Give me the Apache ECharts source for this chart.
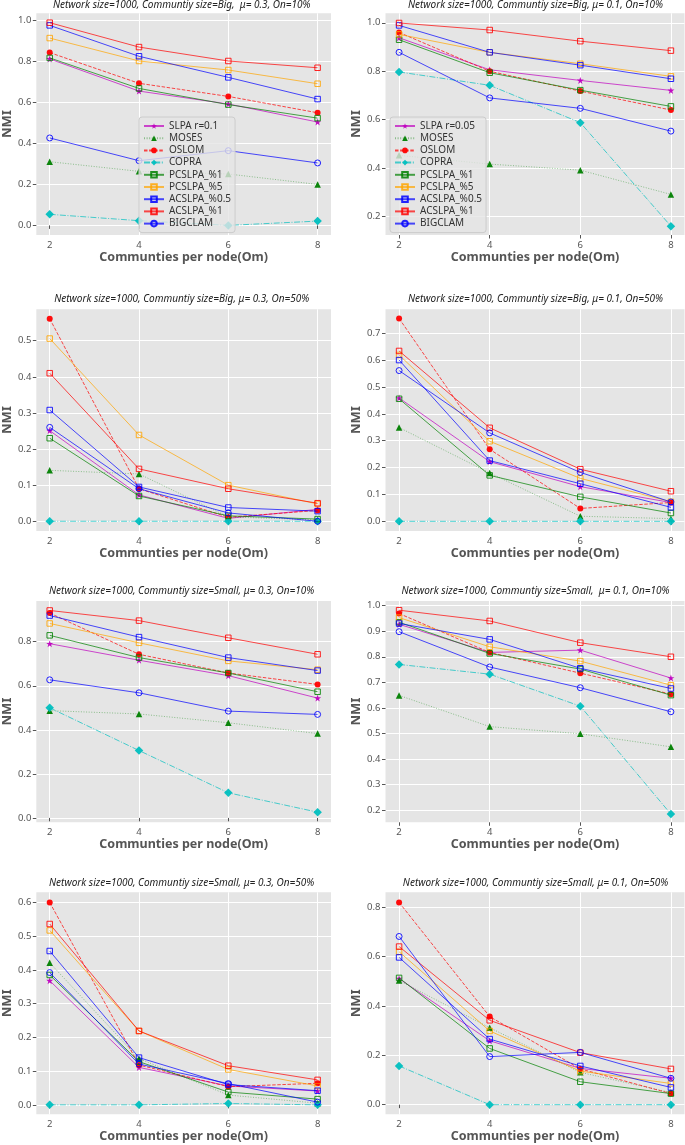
<!DOCTYPE html>
<html>
<head>
<meta charset="utf-8">
<script src="https://cdn.jsdelivr.net/npm/echarts@6/dist/echarts.min.js"></script>
<style>html,body{margin:0;padding:0;background:#fff}#c{width:685px;height:1145px}</style>
</head>
<body>
<div id="c"></div>
<script>
// ---------------- DATA ----------------
const OM = [2, 4, 6, 8];
const X_TICKS = [2, 4, 6, 8];
const TITLES = [
  'Network size=1000, Communtiy size=Big,  \u03bc= 0.3, On=10%',
  'Network size=1000, Communtiy size=Big, \u03bc= 0.1, On=10%',
  'Network size=1000, Communtiy size=Big, \u03bc= 0.3, On=50%',
  'Network size=1000, Communtiy size=Big, \u03bc= 0.1, On=50%',
  'Network size=1000, Communtiy size=Small, \u03bc= 0.3, On=10%',
  'Network size=1000, Communtiy size=Small,  \u03bc= 0.1, On=10%',
  'Network size=1000, Communtiy size=Small, \u03bc= 0.3, On=50%',
  'Network size=1000, Communtiy size=Small, \u03bc= 0.1, On=50%'
];
const X_NAME = 'Communties per node(Om)';
const Y_NAME = 'NMI';
const SLPA_NAMES = ['SLPA r=0.1', 'SLPA r=0.05'];   // left column, right column
const METHOD_NAMES = ['MOSES', 'OSLOM', 'COPRA', 'PCSLPA_%1', 'PCSLPA_%5', 'ACSLPA_%0.5', 'ACSLPA_%1', 'BIGCLAM'];

// one row per panel (row-major: top-left, top-right, ...), values at Om = 2,4,6,8
const SLPA = [
  [0.813, 0.656, 0.593, 0.505],
  [0.938, 0.806, 0.762, 0.721],
  [0.251, 0.073, 0.008, 0.033],
  [0.459, 0.222, 0.129, 0.070],
  [0.791, 0.716, 0.646, 0.544],
  [0.927, 0.817, 0.826, 0.717],
  [0.368, 0.111, 0.056, 0.041],
  [0.511, 0.259, 0.147, 0.107]
];
const MOSES = [
  [0.311, 0.264, 0.251, 0.200],
  [0.453, 0.417, 0.392, 0.292],
  [0.141, 0.131, 0.012, 0.004],
  [0.349, 0.180, 0.019, 0.010],
  [0.487, 0.472, 0.432, 0.383],
  [0.649, 0.527, 0.499, 0.448],
  [0.421, 0.137, 0.029, 0.005],
  [0.503, 0.312, 0.131, 0.049]
];
const OSLOM = [
  [0.844, 0.694, 0.630, 0.550],
  [0.960, 0.800, 0.718, 0.640],
  [0.561, 0.090, 0.011, 0.030],
  [0.755, 0.268, 0.048, 0.070],
  [0.930, 0.743, 0.658, 0.606],
  [0.969, 0.817, 0.736, 0.654],
  [0.600, 0.118, 0.054, 0.064],
  [0.820, 0.357, 0.145, 0.045]
];
const COPRA = [
  [0.054, 0.023, 0.000, 0.021],
  [0.797, 0.742, 0.588, 0.161],
  [0.000, 0.000, 0.000, 0.000],
  [0.000, 0.000, 0.000, 0.000],
  [0.500, 0.306, 0.114, 0.026],
  [0.770, 0.732, 0.607, 0.185],
  [0.000, 0.000, 0.004, 0.000],
  [0.157, 0.000, 0.000, 0.000]
];
const PCSLPA_1 = [
  [0.818, 0.669, 0.590, 0.524],
  [0.930, 0.794, 0.722, 0.655],
  [0.230, 0.070, 0.015, 0.006],
  [0.456, 0.171, 0.091, 0.031],
  [0.829, 0.728, 0.658, 0.573],
  [0.935, 0.813, 0.752, 0.650],
  [0.385, 0.128, 0.038, 0.017],
  [0.514, 0.228, 0.093, 0.045]
];
const PCSLPA_5 = [
  [0.915, 0.803, 0.759, 0.692],
  [0.952, 0.878, 0.831, 0.779],
  [0.506, 0.239, 0.100, 0.048],
  [0.619, 0.298, 0.160, 0.073],
  [0.883, 0.795, 0.713, 0.673],
  [0.953, 0.839, 0.783, 0.689],
  [0.517, 0.219, 0.105, 0.056],
  [0.620, 0.299, 0.136, 0.086]
];
const ACSLPA_05 = [
  [0.977, 0.826, 0.723, 0.617],
  [0.989, 0.878, 0.825, 0.769],
  [0.308, 0.095, 0.038, 0.028],
  [0.600, 0.226, 0.140, 0.052],
  [0.919, 0.821, 0.728, 0.669],
  [0.930, 0.868, 0.755, 0.676],
  [0.456, 0.140, 0.060, 0.042],
  [0.597, 0.266, 0.157, 0.070]
];
const ACSLPA_1 = [
  [0.990, 0.871, 0.803, 0.770],
  [0.999, 0.970, 0.924, 0.885],
  [0.410, 0.145, 0.090, 0.050],
  [0.634, 0.348, 0.194, 0.112],
  [0.942, 0.896, 0.818, 0.743],
  [0.982, 0.940, 0.855, 0.800],
  [0.536, 0.219, 0.116, 0.074],
  [0.641, 0.342, 0.211, 0.145]
];
const BIGCLAM = [
  [0.427, 0.316, 0.365, 0.305],
  [0.878, 0.690, 0.647, 0.553],
  [0.260, 0.090, 0.023, 0.000],
  [0.561, 0.329, 0.182, 0.072],
  [0.627, 0.568, 0.485, 0.470],
  [0.898, 0.760, 0.679, 0.585],
  [0.392, 0.121, 0.063, 0.008],
  [0.682, 0.195, 0.212, 0.107]
];
const Y_TICKS = [
  [0.0, 0.2, 0.4, 0.6, 0.8, 1.0],
  [0.2, 0.4, 0.6, 0.8, 1.0],
  [0.0, 0.1, 0.2, 0.3, 0.4, 0.5],
  [0.0, 0.1, 0.2, 0.3, 0.4, 0.5, 0.6, 0.7],
  [0.0, 0.2, 0.4, 0.6, 0.8],
  [0.2, 0.3, 0.4, 0.5, 0.6, 0.7, 0.8, 0.9, 1.0],
  [0.0, 0.1, 0.2, 0.3, 0.4, 0.5, 0.6],
  [0.0, 0.2, 0.4, 0.6, 0.8]
];
const Y_RANGE = [
  [-0.047, 1.036], [0.1245, 1.039],
  [-0.027, 0.587], [-0.036, 0.789],
  [-0.020, 0.985], [0.153, 1.018],
  [-0.028, 0.630], [-0.039, 0.861]
];
const X_RANGE = [1.7, 8.3];

// ---------------- STYLE / LAYOUT ----------------
const FONT = 'Noto Sans';
const STAR = 'path://M50,0 L61.8,34.5 L97.6,34.5 L68.8,55.9 L79.4,90.5 L50,69.1 L20.6,90.5 L31.2,55.9 L2.4,34.5 L38.2,34.5 Z';
const STYLES = [
  {color: '#bf00bf', symbol: STAR, size: 7, hollow: false, dash: 'solid', op: 0.7},
  {color: '#008000', symbol: 'triangle', size: 6.5, hollow: false, dash: [1, 1.6], op: 0.4},
  {color: '#ff0000', symbol: 'circle', size: 6, hollow: false, dash: [3.5, 1.6], op: 0.7},
  {color: '#00bfbf', symbol: 'diamond', size: 8.5, hollow: false, dash: [6, 1.6, 1, 1.6], op: 0.7},
  {color: '#008000', symbol: 'rect', size: 5.5, hollow: true, dash: 'solid', op: 0.7},
  {color: '#ffa500', symbol: 'rect', size: 5.5, hollow: true, dash: 'solid', op: 0.7},
  {color: '#0000ff', symbol: 'rect', size: 5.5, hollow: true, dash: 'solid', op: 0.7},
  {color: '#ff0000', symbol: 'rect', size: 5.5, hollow: true, dash: 'solid', op: 0.7},
  {color: '#0000ff', symbol: 'circle', size: 6, hollow: true, dash: 'solid', op: 0.7}
];
const DATASETS = [SLPA, MOSES, OSLOM, COPRA, PCSLPA_1, PCSLPA_5, ACSLPA_05, ACSLPA_1, BIGCLAM];

const COL_LEFT = [31, 385.5];
const COL_W = [300, 299];
const ROW_TOP = [13.3, 309.3, 601, 892.3];
const ROW_H = [221.7, 221.7, 221.3, 222];
const TITLE_TOP = [0, 294.5, 586.5, 878];
const TITLE_CX = [181.7, 535.5];

const grids = [], xAxes = [], yAxes = [], titles = [], series = [];
for (let p = 0; p < 8; p++) {
  const col = p % 2, row = Math.floor(p / 2);
  grids.push({
    left: COL_LEFT[col], top: ROW_TOP[row], width: COL_W[col], height: ROW_H[row],
    show: true, backgroundColor: '#e5e5e5', borderWidth: 0, containLabel: false
  });
  titles.push({
    text: TITLES[p], left: TITLE_CX[col], top: TITLE_TOP[row], textAlign: 'center', padding: 0,
    textStyle: {fontFamily: FONT, fontStyle: 'italic', fontWeight: 'normal', fontSize: 10, color: '#222'}
  });
  xAxes.push({
    type: 'value', gridIndex: p, min: X_RANGE[0], max: X_RANGE[1],
    name: X_NAME, nameLocation: 'middle', nameGap: 16,
    nameTextStyle: {fontFamily: FONT, fontWeight: 'bold', fontSize: 12.5, color: '#555'},
    axisLine: {show: false},
    axisTick: {show: true, customValues: X_TICKS, length: 3.5, lineStyle: {color: '#555', width: 1}},
    axisLabel: {customValues: X_TICKS, margin: 5, fontFamily: FONT, fontSize: 9.5, color: '#555'},
    splitLine: {show: true, lineStyle: {color: '#ffffff', width: 1}}
  });
  yAxes.push({
    type: 'value', gridIndex: p, min: Y_RANGE[p][0], max: Y_RANGE[p][1],
    name: Y_NAME, nameLocation: 'middle', nameGap: 19, nameRotate: 90,
    nameTextStyle: {fontFamily: FONT, fontWeight: 'bold', fontSize: 13, color: '#555'},
    axisLine: {show: false},
    axisTick: {show: true, customValues: Y_TICKS[p], length: 3.5, lineStyle: {color: '#555', width: 1}},
    axisLabel: {customValues: Y_TICKS[p], margin: 5, fontFamily: FONT, fontSize: 9.5, color: '#555',
      formatter: v => Number(v).toFixed(1)},
    splitLine: {show: true, lineStyle: {color: '#ffffff', width: 1}}
  });
  const names = [SLPA_NAMES[col]].concat(METHOD_NAMES);
  for (let s = 0; s < 9; s++) {
    const st = STYLES[s];
    series.push({
      type: 'line', name: names[s], xAxisIndex: p, yAxisIndex: p,
      data: OM.map((x, i) => [x, DATASETS[s][p][i]]),
      symbol: st.symbol, symbolSize: st.size, showSymbol: true, silent: true,
      lineStyle: {color: st.color, width: 1, type: st.dash, opacity: st.op},
      itemStyle: st.hollow
        ? {color: 'rgba(0,0,0,0)', borderColor: st.color, borderWidth: 1, opacity: 0.85}
        : {color: st.color, borderWidth: 0, opacity: 0.95},
      emphasis: {disabled: true},
      z: 2 + s * 0.01
    });
  }
}

const legendBase = {
  orient: 'vertical', top: 117, padding: [3, 4, 3, 4],
  itemWidth: 20, itemHeight: 7, itemGap: 0.2,
  backgroundColor: 'rgba(229,229,229,0.8)', borderColor: '#cccccc', borderWidth: 1, borderRadius: 3,
  textStyle: {fontFamily: FONT, fontSize: 10, color: '#333', lineHeight: 12},
  selectedMode: false
};

const chart = echarts.init(document.getElementById('c'), null, {renderer: 'canvas'});
chart.setOption({
  animation: false,
  backgroundColor: '#ffffff',
  title: titles,
  grid: grids,
  xAxis: xAxes,
  yAxis: yAxes,
  legend: [
    Object.assign({}, legendBase, {left: 139, data: [SLPA_NAMES[0]].concat(METHOD_NAMES)}),
    Object.assign({}, legendBase, {left: 390, data: [SLPA_NAMES[1]].concat(METHOD_NAMES)})
  ],
  series: series
});
</script>
</body>
</html>
